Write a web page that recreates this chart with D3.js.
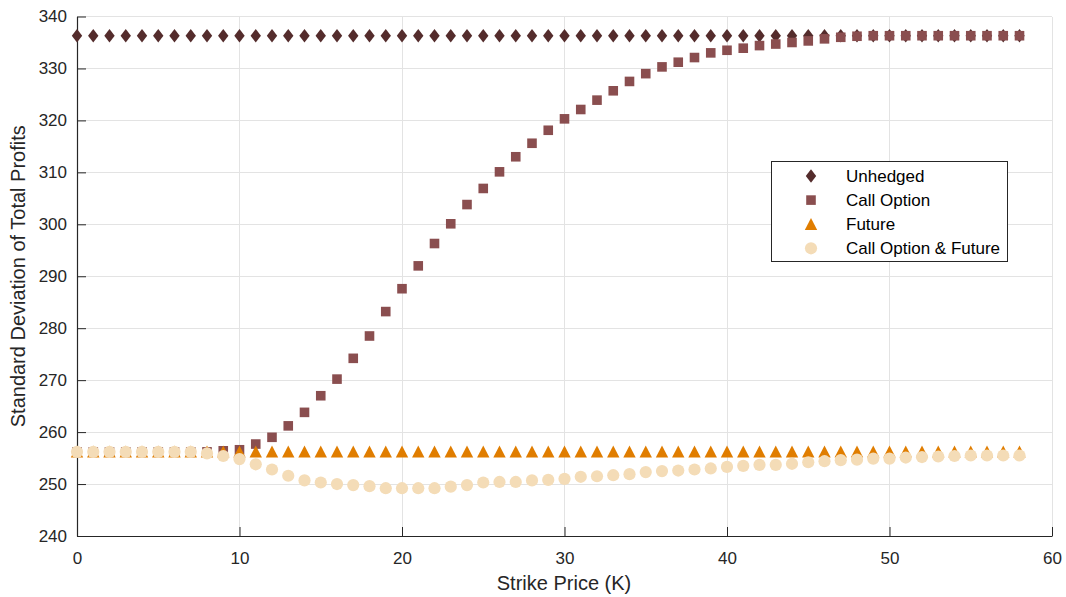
<!DOCTYPE html>
<html><head><meta charset="utf-8">
<script src="https://cdn.jsdelivr.net/npm/d3@7"></script>
<style>
body{margin:0;background:#fff;}
svg{display:block;font-family:"Liberation Sans",Arial,Helvetica,sans-serif;}
</style></head>
<body><svg id="c" width="1066" height="597"></svg>
<script>
const strikes = d3.range(0, 59);
const unhedged = [336.3,336.3,336.3,336.3,336.3,336.3,336.3,336.3,336.3,336.3,
336.3,336.3,336.3,336.3,336.3,336.3,336.3,336.3,336.3,336.3,
336.3,336.3,336.3,336.3,336.3,336.3,336.3,336.3,336.3,336.3,
336.3,336.3,336.3,336.3,336.3,336.3,336.3,336.3,336.3,336.3,
336.3,336.3,336.3,336.3,336.3,336.3,336.3,336.3,336.3,336.3,
336.3,336.3,336.3,336.3,336.3,336.3,336.3,336.3,336.3];
const callOption = [256.2,256.2,256.2,256.2,256.2,256.2,256.2,256.2,256.2,256.4,
256.6,257.7,259.0,261.2,263.8,267.0,270.2,274.2,278.5,283.2,
287.6,292.0,296.3,300.1,303.8,306.9,310.1,313.0,315.6,318.1,
320.3,322.1,323.9,325.7,327.5,329.0,330.3,331.2,332.1,333.0,
333.5,333.9,334.4,334.7,335.0,335.3,335.7,336.0,336.2,336.3,
336.3,336.3,336.3,336.3,336.3,336.3,336.3,336.3,336.3];
const future = [256.2,256.2,256.2,256.2,256.2,256.2,256.2,256.2,256.2,256.2,
256.2,256.2,256.2,256.2,256.2,256.2,256.2,256.2,256.2,256.2,
256.2,256.2,256.2,256.2,256.2,256.2,256.2,256.2,256.2,256.2,
256.2,256.2,256.2,256.2,256.2,256.2,256.2,256.2,256.2,256.2,
256.2,256.2,256.2,256.2,256.2,256.2,256.2,256.2,256.2,256.2,
256.2,256.2,256.2,256.2,256.2,256.2,256.2,256.2,256.2];
const callFuture = [256.2,256.2,256.2,256.2,256.2,256.2,256.2,256.2,255.9,255.4,
254.8,253.8,252.8,251.6,250.7,250.3,250.0,249.8,249.6,249.2,
249.2,249.2,249.2,249.5,249.8,250.3,250.4,250.4,250.7,250.8,
251.0,251.4,251.5,251.7,251.9,252.3,252.5,252.6,252.8,253.0,
253.3,253.5,253.7,253.7,253.9,254.2,254.4,254.6,254.7,254.9,
254.9,255.1,255.2,255.3,255.4,255.5,255.5,255.5,255.5];
const xTicks = [0,10,20,30,40,50,60];
const yTicks = [240,250,260,270,280,290,300,310,320,330,340];
const seriesNames = ["Unhedged","Call Option","Future","Call Option & Future"];

const svg = d3.select("#c");
const L=77,R=1052,T=16.5,B=536;
const x = d3.scaleLinear().domain([0,60]).range([L,R]);
const y = d3.scaleLinear().domain([240,340]).range([B,T]);
const ink="#262626";

// grid
const g = svg.append("g");
g.selectAll(".gx").data(xTicks).join("line")
 .attr("x1",d=>x(d)).attr("x2",d=>x(d)).attr("y1",T).attr("y2",B)
 .attr("stroke","#e3e3e3").attr("stroke-width",1).attr("shape-rendering","crispEdges");
g.selectAll(".gy").data(yTicks).join("line")
 .attr("x1",L).attr("x2",R).attr("y1",d=>y(d)).attr("y2",d=>y(d))
 .attr("stroke","#e3e3e3").attr("stroke-width",1).attr("shape-rendering","crispEdges");

// axes
const xAxis = d3.axisBottom(x).tickValues(xTicks).tickSizeInner(-9).tickSizeOuter(0).tickPadding(16);
const yAxis = d3.axisLeft(y).tickValues(yTicks).tickSizeInner(-9).tickSizeOuter(0).tickPadding(10);
const gx = svg.append("g").attr("transform",`translate(0,${B})`).call(xAxis);
const gy = svg.append("g").attr("transform",`translate(${L},0)`).call(yAxis);
[gx,gy].forEach(a=>{
  a.select(".domain").attr("stroke",ink).attr("stroke-width",1.2);
  a.selectAll(".tick line").attr("stroke",ink).attr("stroke-width",1);
  a.selectAll(".tick text").attr("fill",ink).attr("font-size",17).attr("font-family","Liberation Sans,Arial,sans-serif");
});

// marker shapes
const shapes = {
  diamond: "M0,-6.8L5.2,0L0,6.8L-5.2,0Z",
  square: "M-4.8,-4.8H4.8V4.8H-4.8Z",
  triangle: "M0,-6.3L6.2,5.7H-6.2Z",
  circle: d3.symbol(d3.symbolCircle, Math.PI*6.1*6.1)()
};
const series = [
  {name:seriesNames[0], vals:unhedged, shape:"diamond", color:"#542c2c"},
  {name:seriesNames[1], vals:callOption, shape:"square", color:"#8a4e4f"},
  {name:seriesNames[2], vals:future, shape:"triangle", color:"#e07d00"},
  {name:seriesNames[3], vals:callFuture, shape:"circle", color:"#f4dcb7"}
];
series.forEach(s=>{
  svg.append("g").selectAll("path").data(strikes).join("path")
    .attr("d",shapes[s.shape])
    .attr("transform",(d,i)=>`translate(${x(d)},${y(s.vals[i])})`)
    .attr("fill",s.color);
});

// axis labels
svg.append("text").attr("x",564).attr("y",590).attr("text-anchor","middle")
 .attr("font-size",20).attr("fill",ink).text("Strike Price (K)");
svg.append("text").attr("transform",`translate(25,${(T+B)/2}) rotate(-90)`).attr("text-anchor","middle")
 .attr("font-size",20).attr("fill",ink).text("Standard Deviation of Total Profits");

// legend
const lg = svg.append("g");
lg.append("rect").attr("x",771.5).attr("y",161.5).attr("width",236).attr("height",100)
 .attr("fill","#fff").attr("stroke",ink).attr("stroke-width",1);
series.forEach((s,i)=>{
  const cy = 176 + i*24.1;
  lg.append("path").attr("d",shapes[s.shape]).attr("transform",`translate(811,${cy})`).attr("fill",s.color);
  lg.append("text").attr("x",846).attr("y",cy+6).attr("font-size",17).attr("fill","#000").text(s.name);
});
</script></body></html>
